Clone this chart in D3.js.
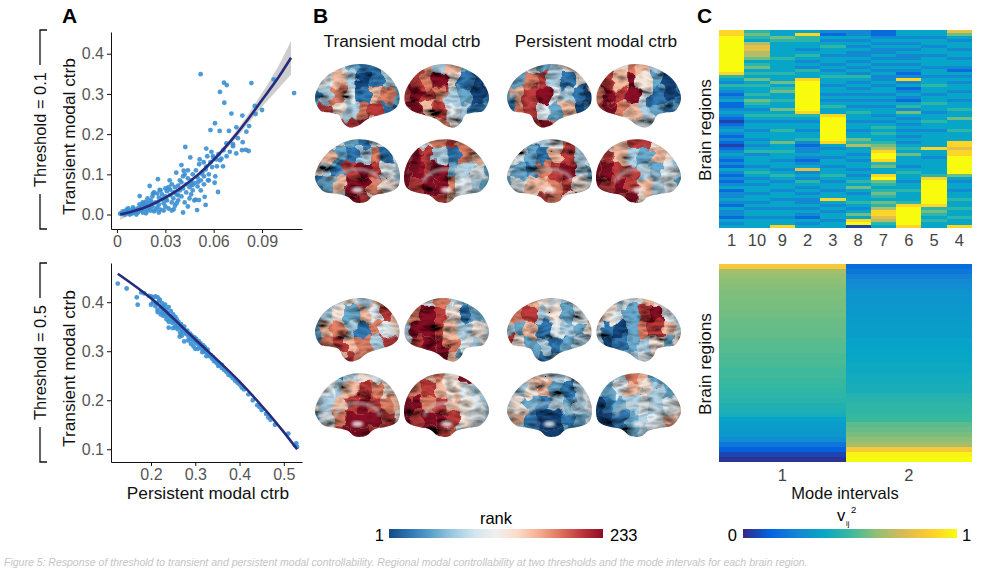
<!DOCTYPE html>
<html>
<head>
<meta charset="utf-8">
<script src="https://cdn.jsdelivr.net/npm/d3@7"></script>
<style>
  body { margin: 0; background: #fff; }
  svg { font-family: "Liberation Sans", Arial, Helvetica, sans-serif; }
</style>
</head>
<body>
<svg id="fig" width="1004" height="570"></svg>
<script>
// ---- panel A data: persistent (x) vs transient (y) modal controllability ----
const scatter01 = [
  [0.0519,0.349],[0.0664,0.328],[0.0681,0.322],[0.0639,0.305],[0.0666,0.278],[0.0834,0.327],[0.0972,0.336],
  [0.1099,0.302],[0.0855,0.270],[0.0710,0.251],[0.0778,0.246],[0.0608,0.227],[0.0580,0.210],[0.0637,0.208],
  [0.0695,0.208],[0.0741,0.217],[0.0803,0.206],[0.0424,0.168],[0.0554,0.164],[0.0586,0.156],[0.0776,0.160],
  [0.0800,0.161],[0.0817,0.158],[0.0679,0.177],[0.0720,0.170],[0.0700,0.156],[0.0740,0.152],[0.0455,0.142],
  [0.0513,0.137],[0.0538,0.130],[0.0596,0.145],[0.0617,0.137],[0.0648,0.139],[0.0658,0.120],[0.0627,0.056],
  [0.0554,0.119],[0.0523,0.102],[0.0565,0.085],[0.0606,0.079],[0.0503,0.081],[0.0468,0.073],[0.0414,0.109],
  [0.0400,0.123],[0.0368,0.104],[0.0327,0.085],[0.0254,0.088],[0.0203,0.071],[0.0488,0.037],[0.0509,0.036],
  [0.0544,0.044],[0.0550,0.024],[0.0497,0.011],[0.0410,0.005],[0.0352,0.013],[0.0306,0.037],[0.0265,0.061],
  [0.0223,0.052],[0.0141,0.046],[0.0161,0.027],
  [0.002,0.002],[0.003,0.004],[0.004,0.001],[0.005,0.006],[0.006,0.003],[0.007,0.008],[0.008,0.005],
  [0.009,0.010],[0.010,0.004],[0.011,0.012],[0.004,0.008],[0.006,0.012],[0.008,0.000],[0.012,0.007],
  [0.013,0.015],[0.014,0.010],[0.015,0.020],[0.016,0.005],[0.017,0.014],[0.018,0.022],[0.019,0.010],
  [0.020,0.028],[0.020,0.016],[0.021,0.035],[0.022,0.020],[0.023,0.008],[0.024,0.030],[0.025,0.018],
  [0.026,0.042],[0.026,0.025],[0.027,0.012],[0.028,0.038],[0.028,0.050],[0.029,0.028],[0.030,0.045],
  [0.030,0.020],[0.031,0.058],[0.031,0.035],[0.032,0.015],[0.033,0.048],[0.033,0.062],[0.034,0.030],
  [0.035,0.055],[0.035,0.040],[0.036,0.068],[0.036,0.022],[0.037,0.050],[0.038,0.072],[0.038,0.035],
  [0.039,0.060],[0.040,0.045],[0.040,0.080],[0.041,0.065],[0.042,0.030],[0.043,0.075],[0.043,0.055],
  [0.044,0.090],[0.045,0.068],[0.045,0.040],[0.046,0.085],[0.047,0.100],[0.047,0.060],[0.048,0.078],
  [0.049,0.110],[0.050,0.092],[0.050,0.070],[0.051,0.125],[0.052,0.085],[0.053,0.105],[0.054,0.095],
  [0.055,0.112],[0.056,0.145],[0.057,0.100],[0.058,0.130],[0.059,0.118],[0.060,0.140],[0.062,0.120],
  [0.063,0.150],[0.064,0.135],[0.066,0.160],[0.068,0.145],[0.072,0.175],[0.075,0.190],[0.078,0.180],
  [0.082,0.220],[0.086,0.250],[0.090,0.260],
  [0.010,0.018],[0.012,0.000],[0.014,0.025],[0.016,0.030],[0.018,0.003],[0.019,0.040],[0.022,0.045],
  [0.024,0.012],[0.025,0.052],[0.027,0.060],[0.029,0.010],[0.032,0.068],[0.034,0.075],[0.037,0.028],
  [0.039,0.085],[0.041,0.095],[0.044,0.020],[0.046,0.050],[0.048,0.035],[0.017,0.025],[0.021,0.010],
  [0.023,0.055],[0.013,0.005],[0.009,0.002],[0.007,0.015],[0.005,0.000],[0.015,0.012],[0.018,0.032],
  [0.022,0.028],[0.026,0.005],[0.030,0.065],[0.034,0.010],[0.038,0.048],[0.042,0.100],[0.044,0.110],
  [0.046,0.075],[0.052,0.060],[0.054,0.075],[0.057,0.085],[0.061,0.095]
];
const fit01X   = [0.002, 0.010, 0.020, 0.030, 0.040, 0.050, 0.060, 0.070, 0.080, 0.090, 0.100, 0.108];
const fit01Y   = [0.000, 0.008, 0.022, 0.042, 0.067, 0.098, 0.136, 0.180, 0.230, 0.285, 0.340, 0.390];
const fit01Err = [0.013, 0.007, 0.004, 0.004, 0.004, 0.005, 0.006, 0.008, 0.011, 0.017, 0.028, 0.042];

const scatter05 = [
  [0.125,0.438],[0.145,0.428],[0.168,0.410],[0.170,0.395],[0.178,0.420],[0.185,0.418],[0.195,0.413],
  [0.200,0.412],[0.205,0.410],[0.210,0.412],[0.215,0.410],[0.220,0.405],[0.205,0.400],[0.212,0.398],
  [0.218,0.402],[0.225,0.398],[0.228,0.392],[0.230,0.388],[0.232,0.395],[0.235,0.385],[0.225,0.380],
  [0.228,0.372],[0.238,0.378],[0.240,0.390],[0.242,0.372],[0.245,0.382],[0.248,0.368],[0.250,0.375],
  [0.252,0.362],[0.235,0.365],[0.240,0.360],[0.255,0.358],[0.258,0.365],[0.260,0.352],[0.262,0.360],
  [0.265,0.348],[0.268,0.355],[0.270,0.345],[0.272,0.340],[0.275,0.350],[0.278,0.338],[0.250,0.347],
  [0.280,0.335],[0.282,0.342],[0.285,0.330],[0.288,0.336],[0.290,0.325],[0.292,0.332],[0.295,0.322],
  [0.298,0.328],[0.300,0.318],[0.275,0.320],[0.302,0.325],[0.305,0.315],[0.308,0.320],[0.310,0.310],
  [0.312,0.316],[0.315,0.305],[0.318,0.312],[0.320,0.300],[0.322,0.308],[0.325,0.298],[0.328,0.303],
  [0.330,0.295],[0.332,0.290],[0.335,0.292],[0.338,0.285],[0.340,0.288],[0.342,0.280],[0.345,0.283],
  [0.348,0.276],[0.350,0.278],[0.352,0.270],[0.355,0.272],[0.360,0.266],[0.365,0.262],[0.370,0.258],
  [0.375,0.252],[0.380,0.250],[0.390,0.240],[0.395,0.236],[0.400,0.232],[0.410,0.222],[0.420,0.212],
  [0.430,0.200],[0.440,0.190],[0.445,0.186],[0.450,0.180],[0.460,0.172],[0.465,0.165],[0.470,0.160],
  [0.480,0.150],[0.510,0.132],[0.525,0.108],[0.530,0.105],[0.528,0.112],
  [0.222,0.390],[0.226,0.386],[0.232,0.378],[0.236,0.372],[0.244,0.366],[0.248,0.358],[0.254,0.350],
  [0.260,0.345],[0.266,0.338],[0.270,0.332],[0.284,0.322],[0.296,0.310],[0.306,0.305],[0.316,0.298],
  [0.200,0.395],[0.210,0.392],[0.215,0.385],[0.240,0.348],[0.265,0.330],[0.215,0.380],[0.222,0.375],
  [0.255,0.370],[0.290,0.315],[0.300,0.305],[0.325,0.290],[0.360,0.272],[0.385,0.245],[0.405,0.226]
];
const fit05X = [0.125, 0.200, 0.300, 0.400, 0.500, 0.530];
const fit05Y = [0.458, 0.408, 0.324, 0.238, 0.135, 0.100];

const ticks01X = [0, 0.03, 0.06, 0.09];
const ticks01Y = [0, 0.1, 0.2, 0.3, 0.4];
const ticks05X = [0.2, 0.3, 0.4, 0.5];
const ticks05Y = [0.1, 0.2, 0.3, 0.4];

// ---- panel B data: rank patches, digit 0..9 = low..high rank, 8 cols x 5 rows per view ----
const lateral01 = [
  "4342114524630135137416722853781034989621",
  "5763621468795103898732017968431258975323",
  "2342354512783156268943101784260134897522",
  "4657631358695202798941018976321268954323"
];
const medial01 = [
  "7852134586213714531898431269975401498532",
  "6547865489831763998923429899743289986423",
  "6853475474216834421789322466785401587533",
  "5468854378632654998832439898634279895433"
];
const lateral05 = [
  "3245367513526486267317451786738932687698",
  "5647324567985124399863544899743556896244",
  "7865435667835246326143258523123478212345",
  "5634654575428943410278643012352565134565"
];
const medial05 = [
  "3213545524368754536898762479998512899864",
  "3267598487865433997865439899854389987434",
  "3465344423562134452132343610012483100234",
  "4537621332465323012343450012346510123476"
];
const rankMax = 233;

// ---- panel C data: v_ij^2 per brain region (digit 0..9 -> low..high) ----
const modeLabels = ["1", "10", "9", "2", "3", "8", "7", "6", "5", "4"];
const modeColumns = [
  "88999999999" + "99984324321" + "23112321012" + "32121012321" + "21321212312" + "23213221323",
  "45436776653" + "45343534334" + "35432343233" + "23323234233" + "32343232332" + "33232332333",
  "33543333343" + "33343353453" + "34335343233" + "43335334332" + "33234323323" + "32332332338",
  "38443323432" + "32433899999" + "99999843233" + "23342122321" + "23723243232" + "32232321323",
  "21323433233" + "23234332332" + "32343389999" + "99998323323" + "32334323323" + "38323233233",
  "22323232232" + "32324323232" + "32323433233" + "23354633232" + "33232343532" + "33432353890",
  "11232322323" + "23232232332" + "32323323234" + "34334568998" + "45338954345" + "43546887643",
  "33232323223" + "23212823123" + "21342532323" + "23232343533" + "32343323343" + "33489999998",
  "33233233233" + "32332334332" + "33433233433" + "23333383323" + "33334899999" + "99984543433",
  "75323323323" + "32132323323" + "32334335333" + "43338878899" + "99995323323" + "34334334338"
];
const intervalLabels = ["1", "2"];
const interval1 = [0.85, 0.66, 0.63, 0.62, 0.61, 0.60, 0.60, 0.59, 0.59, 0.58, 0.58, 0.57, 0.57, 0.56,
  0.56, 0.55, 0.54, 0.54, 0.53, 0.53, 0.52, 0.51, 0.51, 0.50, 0.49, 0.48, 0.47, 0.46, 0.44, 0.43,
  0.42, 0.36, 0.34, 0.33, 0.32, 0.28, 0.20, 0.12, 0.06, 0.02];
const interval2 = [0.16, 0.20, 0.24, 0.26, 0.28, 0.30, 0.31, 0.31, 0.32, 0.32, 0.33, 0.33, 0.34, 0.34,
  0.34, 0.36, 0.36, 0.37, 0.37, 0.38, 0.39, 0.39, 0.40, 0.41, 0.42, 0.42, 0.45, 0.46, 0.47, 0.48,
  0.49, 0.50, 0.55, 0.57, 0.59, 0.62, 0.66, 0.85, 0.98, 1.00];

const parulaStops = ["#352a87", "#0363e1", "#1485d4", "#06a7c6", "#38b99e", "#92bf73", "#d9ba56", "#fcce2e", "#f9fb0e"];

// ------------------------------------------------------------------
const svg = d3.select("#fig");
svg.append("rect").attr("width", 1004).attr("height", 570).attr("fill", "#fff");
const defs = svg.append("defs");

const parula = d3.piecewise(d3.interpolateRgb, parulaStops);
const rankColor = d3.scaleSequential(t => d3.interpolateRdBu(0.95 - 0.9 * t)).domain([1, rankMax]);
const digitValue = d3.scaleLinear().domain([0, 9]).range([0.05, 1]);

function panelLetter(txt, x) {
  svg.append("text").attr("x", x).attr("y", 23)
    .style("font-size", "21px").style("font-weight", "bold").text(txt);
}
panelLetter("A", 62);
panelLetter("B", 313);
panelLetter("C", 697);

function rotLabel(txt, x, cy, size) {
  return svg.append("text").attr("transform", `translate(${x},${cy}) rotate(-90)`)
    .attr("text-anchor", "middle").style("font-size", size + "px").attr("fill", "#111").text(txt);
}

function styleAxis(g) {
  g.selectAll("text").attr("fill", "#555").style("font-size", "16px");
  g.selectAll("line,path").attr("stroke", "#111");
}

function bracket(label, y0, y1) {
  const cy = (y0 + y1) / 2;
  const t = rotLabel(label, 46, cy, 16.5);
  const half = t.node().getComputedTextLength() / 2 + 7;
  const g = svg.append("g").attr("stroke", "#111").attr("stroke-width", 1.3).attr("fill", "none");
  g.append("path").attr("d", `M47,${y0}H40V${cy - half}`);
  g.append("path").attr("d", `M40,${cy + half}V${y1}H47`);
}

// ---- panel A ----
function scatterPanel(cfg) {
  const x = d3.scaleLinear().domain(cfg.xDomain).range([111, 302]);
  const y = d3.scaleLinear().domain(cfg.yDomain).range([cfg.bottom, cfg.top]);
  const g = svg.append("g");
  if (cfg.band) {
    g.append("path").datum(cfg.band)
      .attr("d", d3.area().x(d => x(d[0])).y0(d => y(d[1] - d[2])).y1(d => y(d[1] + d[2])).curve(d3.curveMonotoneX))
      .attr("fill", "#bdbdbd").attr("opacity", 0.75);
  }
  g.selectAll("circle").data(cfg.points).join("circle")
    .attr("cx", d => x(d[0])).attr("cy", d => y(d[1])).attr("r", 2.4)
    .attr("fill", "#3a8fd3").attr("fill-opacity", 0.9);
  g.append("path").datum(cfg.fit)
    .attr("d", d3.line().x(d => x(d[0])).y(d => y(d[1])).curve(d3.curveMonotoneX))
    .attr("fill", "none").attr("stroke", "#272b7d").attr("stroke-width", 2.6);

  const ax = svg.append("g").attr("transform", `translate(0,${cfg.bottom})`)
    .call(d3.axisBottom(x).tickValues(cfg.xTicks).tickFormat(cfg.xFmt).tickSize(4).tickSizeOuter(0).tickPadding(3));
  const ay = svg.append("g").attr("transform", "translate(111,0)")
    .call(d3.axisLeft(y).tickValues(cfg.yTicks).tickFormat(d3.format(".1f")).tickSize(4).tickSizeOuter(0).tickPadding(3));
  styleAxis(ax); styleAxis(ay);
  rotLabel("Transient modal ctrb", 75, (cfg.top + cfg.bottom) / 2 + 6, 17.3);
}

scatterPanel({
  points: scatter01, fit: d3.zip(fit01X, fit01Y), band: d3.zip(fit01X, fit01Y, fit01Err),
  xDomain: [-0.0037, 0.1148], yDomain: [-0.036, 0.454], top: 32, bottom: 229,
  xTicks: ticks01X, yTicks: ticks01Y, xFmt: d => d === 0 ? "0" : d.toFixed(2)
});
scatterPanel({
  points: scatter05, fit: d3.zip(fit05X, fit05Y), band: null,
  xDomain: [0.1097, 0.541], yDomain: [0.074, 0.48], top: 263, bottom: 462,
  xTicks: ticks05X, yTicks: ticks05Y, xFmt: d3.format(".1f")
});
bracket("Threshold = 0.1", 30, 229);
bracket("Threshold = 0.5", 263, 462);
svg.append("text").attr("x", 208).attr("y", 499).attr("text-anchor", "middle")
  .style("font-size", "17.3px").attr("fill", "#111").text("Persistent modal ctrb");

// ---- panel B: stylised cortical surfaces ----
const lateralShape = [[0.0,0.55],[0.04,0.36],[0.14,0.2],[0.3,0.08],[0.48,0.02],[0.64,0.03],[0.8,0.12],
  [0.92,0.28],[0.99,0.47],[0.98,0.64],[0.9,0.74],[0.76,0.8],[0.62,0.86],[0.5,0.97],[0.4,0.99],
  [0.33,0.92],[0.28,0.8],[0.18,0.76],[0.07,0.74]];
const medialShape = [[0.0,0.62],[0.05,0.4],[0.17,0.2],[0.33,0.07],[0.5,0.02],[0.68,0.05],[0.84,0.16],
  [0.95,0.35],[1.0,0.58],[0.97,0.76],[0.85,0.84],[0.7,0.88],[0.6,0.98],[0.47,0.99],[0.38,0.9],
  [0.25,0.86],[0.1,0.82]];
const brainX = [315, 404, 507, 596];
const brainW = 85, brainH = 65;

const shade = defs.append("radialGradient").attr("id", "edgeShade").attr("cx", "50%").attr("cy", "45%").attr("r", "60%");
shade.append("stop").attr("offset", "55%").attr("stop-color", "#000").attr("stop-opacity", 0);
shade.append("stop").attr("offset", "100%").attr("stop-color", "#000").attr("stop-opacity", 0.28);
defs.append("filter").attr("id", "soft").append("feGaussianBlur").attr("stdDeviation", 1.6);

let brainId = 0;
function drawBrain(x0, y0, code, medial, mirror) {
  const id = brainId++;
  const sx = d3.scaleLinear().domain(mirror ? [1, 0] : [0, 1]).range([0, brainW]);
  const sy = d3.scaleLinear().domain([0, 1]).range([0, brainH]);
  const outline = d3.line().x(d => sx(d[0])).y(d => sy(d[1])).curve(d3.curveCatmullRomClosed);

  defs.append("clipPath").attr("id", "brainClip" + id)
    .append("path").attr("d", outline(medial ? medialShape : lateralShape));

  const f = defs.append("filter").attr("id", "cortex" + id)
    .attr("x", "-10%").attr("y", "-10%").attr("width", "120%").attr("height", "120%");
  f.append("feTurbulence").attr("type", "fractalNoise").attr("baseFrequency", 0.085)
    .attr("numOctaves", 2).attr("seed", id + 1).attr("result", "warp");
  f.append("feDisplacementMap").attr("in", "SourceGraphic").attr("in2", "warp").attr("scale", 17)
    .attr("xChannelSelector", "R").attr("yChannelSelector", "G").attr("result", "patches");
  f.append("feTurbulence").attr("type", "turbulence").attr("baseFrequency", "0.05 0.11")
    .attr("numOctaves", 2).attr("seed", id + 40).attr("result", "noise");
  f.append("feColorMatrix").attr("in", "noise").attr("type", "matrix")
    .attr("values", "-1.6 0 0 0 1.12  -1.6 0 0 0 1.12  -1.6 0 0 0 1.12  0 0 0 0 1").attr("result", "sulci");
  f.append("feBlend").attr("in", "patches").attr("in2", "sulci").attr("mode", "multiply");

  const g = svg.append("g").attr("transform", `translate(${x0},${y0})`);
  const clipped = g.append("g").attr("clip-path", `url(#brainClip${id})`);
  const cols = d3.range(8), rows = d3.range(5);
  const cx = d3.scaleBand().domain(cols).range([-7, brainW + 7]);
  const cy = d3.scaleBand().domain(rows).range([-7, brainH + 7]);
  const cells = [];
  rows.forEach(r => cols.forEach(c => cells.push({ c, r, rank: 1 + (+code[r * 8 + c]) * (rankMax - 1) / 9 })));
  clipped.append("g").attr("filter", `url(#cortex${id})`)
    .selectAll("rect").data(cells).join("rect")
    .attr("x", d => cx(d.c)).attr("y", d => cy(d.r))
    .attr("width", cx.bandwidth() + 0.5).attr("height", cy.bandwidth() + 0.5)
    .attr("fill", d => rankColor(d.rank));
  if (medial) {
    const ax0 = sx(0.24), ax1 = sx(0.76), ay = sy(0.68);
    clipped.append("path")
      .attr("d", `M${ax0},${ay} A${brainW * 0.26},${brainH * 0.2} 0 0 ${mirror ? 0 : 1} ${ax1},${ay}`)
      .attr("fill", "none").attr("stroke", "#d0d0d0").attr("stroke-width", 3.5).attr("opacity", 0.6)
      .attr("filter", "url(#soft)");
    clipped.append("ellipse").attr("cx", sx(0.5)).attr("cy", sy(0.8)).attr("rx", brainW * 0.07).attr("ry", brainH * 0.045)
      .attr("fill", "#fff").attr("opacity", 0.8).attr("filter", "url(#soft)");
  }
  clipped.append("rect").attr("width", brainW).attr("height", brainH).attr("fill", "url(#edgeShade)");
}

[[lateral01, 63, false], [medial01, 138, true], [lateral05, 297, false], [medial05, 372, true]]
  .forEach(([codes, y, medial]) => codes.forEach((code, i) => drawBrain(brainX[i], y, code, medial, i % 2 === 1)));

svg.append("text").attr("x", 402).attr("y", 47).attr("text-anchor", "middle")
  .style("font-size", "17.3px").attr("fill", "#111").text("Transient modal ctrb");
svg.append("text").attr("x", 596).attr("y", 47).attr("text-anchor", "middle")
  .style("font-size", "17.3px").attr("fill", "#111").text("Persistent modal ctrb");

// rank colour bar
const rankGrad = defs.append("linearGradient").attr("id", "rankGrad");
d3.range(11).forEach(i => rankGrad.append("stop").attr("offset", i / 10)
  .attr("stop-color", rankColor(1 + i / 10 * (rankMax - 1))));
svg.append("rect").attr("x", 389).attr("y", 529).attr("width", 214).attr("height", 9).attr("fill", "url(#rankGrad)");
svg.append("text").attr("x", 496).attr("y", 524).attr("text-anchor", "middle").style("font-size", "16.5px").text("rank");
svg.append("text").attr("x", 384).attr("y", 541).attr("text-anchor", "end").style("font-size", "16.5px").text("1");
svg.append("text").attr("x", 610).attr("y", 541).style("font-size", "16.5px").text(String(rankMax));

// ---- panel C ----
const nRows = d3.max(modeColumns, s => s.length);
const hx = d3.scaleBand().domain(modeLabels).range([719, 972]);
const hy = d3.scaleBand().domain(d3.range(nRows)).range([30, 228]);
const topCells = [];
modeColumns.forEach((s, i) => s.split("").forEach((ch, r) => topCells.push({ m: modeLabels[i], r, v: digitValue(+ch) })));
svg.append("g").attr("shape-rendering", "crispEdges")
  .selectAll("rect").data(topCells).join("rect")
  .attr("x", d => hx(d.m)).attr("y", d => hy(d.r))
  .attr("width", hx.bandwidth() + 0.4).attr("height", hy.bandwidth() + 0.4)
  .attr("fill", d => parula(d.v));
const axTop = svg.append("g").attr("transform", "translate(0,230)")
  .call(d3.axisBottom(hx).tickSize(0).tickPadding(4));
axTop.select(".domain").remove();
axTop.selectAll("text").attr("fill", "#444").style("font-size", "16.5px");
rotLabel("Brain regions", 711, 130, 17.3);

const bx = d3.scaleBand().domain(intervalLabels).range([719, 972]);
const by = d3.scaleBand().domain(d3.range(interval1.length)).range([264, 462]);
const botCells = [];
[interval1, interval2].forEach((arr, i) => arr.forEach((v, r) => botCells.push({ m: intervalLabels[i], r, v })));
svg.append("g").attr("shape-rendering", "crispEdges")
  .selectAll("rect").data(botCells).join("rect")
  .attr("x", d => bx(d.m)).attr("y", d => by(d.r))
  .attr("width", bx.bandwidth() + 0.4).attr("height", by.bandwidth() + 0.4)
  .attr("fill", d => parula(d.v));
const axBot = svg.append("g").attr("transform", "translate(0,463)")
  .call(d3.axisBottom(bx).tickSize(0).tickPadding(6));
axBot.select(".domain").remove();
axBot.selectAll("text").attr("fill", "#444").style("font-size", "16.5px");
rotLabel("Brain regions", 711, 364, 17.3);
svg.append("text").attr("x", 845).attr("y", 499).attr("text-anchor", "middle")
  .style("font-size", "16.5px").attr("fill", "#111").text("Mode intervals");

// parula colour bar
const parGrad = defs.append("linearGradient").attr("id", "parGrad");
parulaStops.forEach((c, i) => parGrad.append("stop").attr("offset", i / (parulaStops.length - 1)).attr("stop-color", c));
svg.append("rect").attr("x", 743).attr("y", 529).attr("width", 214).attr("height", 9).attr("fill", "url(#parGrad)");
svg.append("text").attr("x", 837).attr("y", 521).style("font-size", "16.5px").text("v");
svg.append("text").attr("x", 846).attr("y", 525.5).style("font-size", "7.5px").text("ij");
svg.append("text").attr("x", 851).attr("y", 512.5).style("font-size", "9.5px").text("2");
svg.append("text").attr("x", 737).attr("y", 541).attr("text-anchor", "end").style("font-size", "16.5px").text("0");
svg.append("text").attr("x", 962).attr("y", 541).style("font-size", "16.5px").text("1");

// caption, as faint as in the source page
svg.append("text").attr("x", 4).attr("y", 566).style("font-size", "10.5px").style("font-style", "italic")
  .attr("fill", "#c4c4c4")
  .text("Figure 5: Response of threshold to transient and persistent modal controllability. Regional modal controllability at two thresholds and the mode intervals for each brain region.");
</script>
</body>
</html>
